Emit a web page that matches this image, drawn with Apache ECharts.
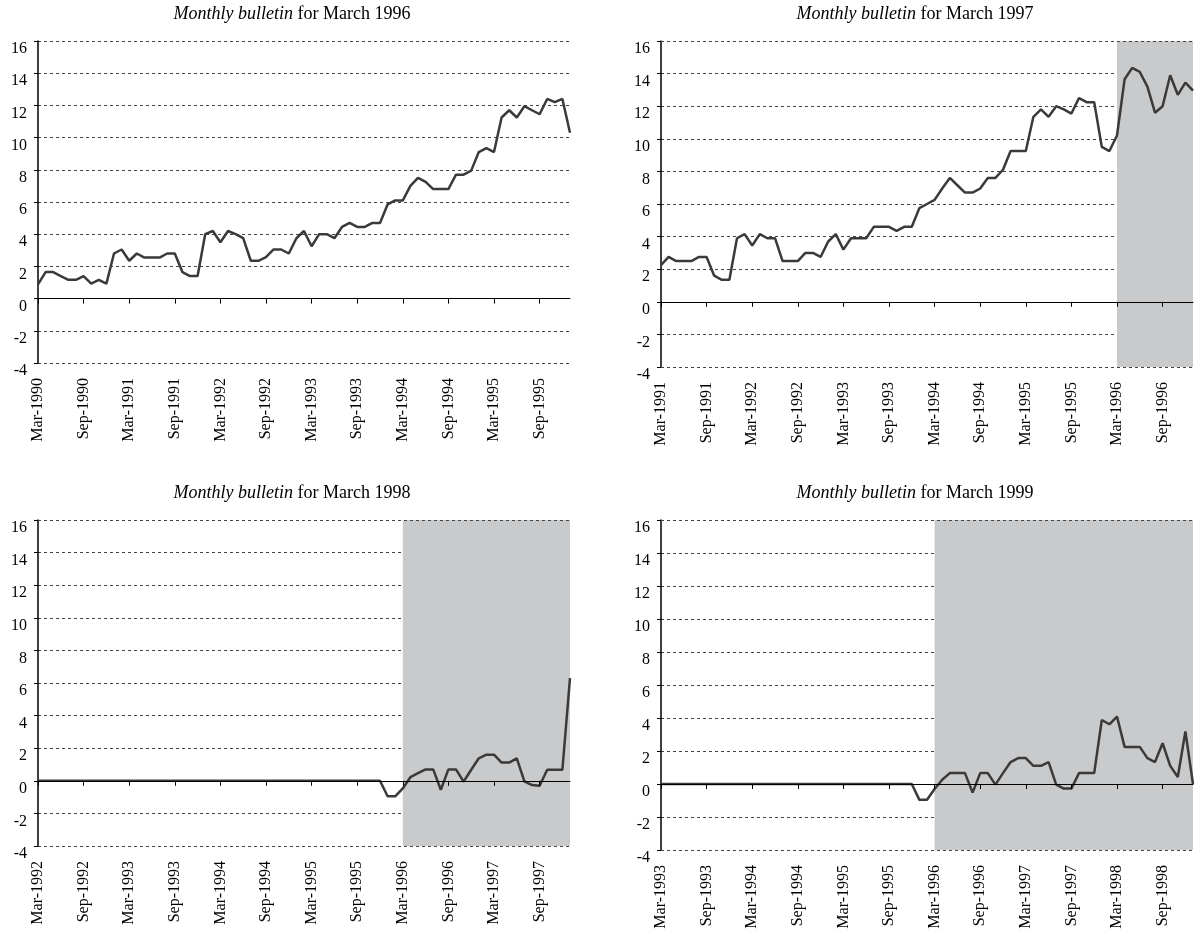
<!DOCTYPE html>
<html>
<head>
<meta charset="utf-8">
<script src="https://cdn.jsdelivr.net/npm/echarts@6/dist/echarts.min.js"></script>
<style>
  html, body { margin: 0; padding: 0; background: #fff; }
  #chart { width: 1195px; height: 932px; }
</style>
</head>
<body>
<div id="chart"></div>
<script>
  // bulletins: each shows 71 monthly points starting March of startYears[i]
  const bulletinTitles = ['March 1996', 'March 1997', 'March 1998', 'March 1999']
  const startYears = [1990, 1991, 1992, 1993]
  const shadeFrom = [null, 'Mar-1996', 'Mar-1996', 'Mar-1996']

  const values1996 = [0.88, 1.65, 1.65, 1.4, 1.17, 1.17, 1.4, 0.93, 1.17, 0.93,
    2.8, 3.05, 2.35, 2.8, 2.55, 2.55, 2.55, 2.8, 2.8, 1.65, 1.4, 1.4,
    4.0, 4.2, 3.5, 4.2, 4.0, 3.75, 2.35, 2.35, 2.57, 3.05, 3.05, 2.8,
    3.75, 4.2, 3.25, 4.0, 4.0, 3.75, 4.45, 4.7, 4.45, 4.45, 4.7, 4.7,
    5.85, 6.1, 6.1, 7.0, 7.5, 7.25, 6.8, 6.8, 6.8, 7.7, 7.7, 7.95,
    9.1, 9.35, 9.1, 11.25, 11.7, 11.25, 11.95, 11.7, 11.45, 12.4, 12.2, 12.4, 10.3]

  const values1997 = [2.25, 2.75, 2.5, 2.5, 2.5, 2.75, 2.75, 1.6, 1.35, 1.35,
    3.9, 4.15, 3.45, 4.15, 3.9, 3.9, 2.5, 2.5, 2.5, 3.0, 3.0, 2.75,
    3.7, 4.15, 3.2, 3.9, 3.9, 3.9, 4.6, 4.6, 4.6, 4.35, 4.6, 4.6,
    5.75, 6.0, 6.25, 6.95, 7.6, 7.15, 6.7, 6.7, 6.95, 7.6, 7.6, 8.1,
    9.25, 9.25, 9.25, 11.35, 11.8, 11.35, 12.0, 11.8, 11.55, 12.5, 12.25, 12.25,
    9.5, 9.25, 10.2, 13.65, 14.35, 14.1, 13.2, 11.6, 12.0, 13.9, 12.7, 13.45, 12.95]

  const values1998 = [0, 0, 0, 0, 0, 0, 0, 0, 0, 0, 0, 0, 0, 0, 0, 0, 0, 0, 0, 0,
    0, 0, 0, 0, 0, 0, 0, 0, 0, 0, 0, 0, 0, 0, 0, 0, 0, 0, 0, 0, 0, 0, 0, 0, 0, 0,
    -0.95, -0.95, -0.47, 0.22, 0.47, 0.7, 0.7, -0.55, 0.7, 0.7, -0.05, 0.68,
    1.38, 1.6, 1.6, 1.12, 1.12, 1.38, -0.04, -0.26, -0.3, 0.68, 0.68, 0.68, 6.3]

  const values1999 = [0, 0, 0, 0, 0, 0, 0, 0, 0, 0, 0, 0, 0, 0, 0, 0, 0, 0, 0, 0,
    0, 0, 0, 0, 0, 0, 0, 0, 0, 0, 0, 0, 0, 0,
    -0.96, -0.96, -0.3, 0.26, 0.66, 0.66, 0.66, -0.52, 0.66, 0.66, -0.04, 0.66,
    1.33, 1.57, 1.57, 1.1, 1.1, 1.33, -0.04, -0.28, -0.28, 0.66, 0.66, 0.66,
    3.88, 3.62, 4.08, 2.25, 2.25, 2.25, 1.57, 1.33, 2.47, 1.1, 0.42, 3.18, 0.0]

  const seriesValues = [values1996, values1997, values1998, values1999]
  const yMin = -4
  const yMax = 16
  const yStep = 2

  const monthNames = ['Jan', 'Feb', 'Mar', 'Apr', 'May', 'Jun', 'Jul', 'Aug', 'Sep', 'Oct', 'Nov', 'Dec']
  function monthLabels (year, n) {
    let out = []
    for (let i = 0; i < n; i++) {
      let m = 2 + i
      out.push(monthNames[m % 12] + '-' + (year + Math.floor(m / 12)))
    }
    return out
  }

  const serif = 'Liberation Serif, Times New Roman, serif'
  // grid boxes [left, top, width, height] in px
  const boxes = [
    [38, 41, 532, 322],
    [661, 41, 532, 326],
    [38, 520, 532, 326],
    [661, 520, 532, 330]
  ]

  let grids = []
  let xAxes = []
  let yAxes = []
  let series = []
  let titles = []

  boxes.forEach((b, i) => {
    let cats = monthLabels(startYears[i], seriesValues[i].length)
    grids.push({ left: b[0], top: b[1], width: b[2], height: b[3], containLabel: false })
    titles.push({
      text: '{i|Monthly bulletin}{n| for ' + bulletinTitles[i] + '}',
      left: b[0] + b[2] / 2 - 17,
      top: b[1] - 41,
      textAlign: 'center',
      textStyle: {
        fontWeight: 'normal',
        rich: {
          i: { fontFamily: serif, fontStyle: 'italic', fontWeight: 'normal', fontSize: 18, color: '#000' },
          n: { fontFamily: serif, fontWeight: 'normal', fontSize: 18, color: '#000' }
        }
      }
    })
    // bottom axis: labels only
    xAxes.push({
      type: 'category',
      gridIndex: i,
      data: cats,
      boundaryGap: false,
      position: 'bottom',
      axisLine: { show: false, onZero: false },
      axisTick: { show: false },
      splitLine: { show: false },
      axisLabel: {
        interval: 5,
        rotate: 90,
        margin: 15,
        fontFamily: serif,
        fontSize: 16,
        color: '#000'
      }
    })
    // zero axis: line and ticks only
    xAxes.push({
      type: 'category',
      gridIndex: i,
      data: cats,
      boundaryGap: false,
      position: 'bottom',
      z: 5,
      axisLine: { show: true, onZero: true, lineStyle: { color: '#000', width: 1 } },
      axisTick: { show: true, interval: 5, length: 5, lineStyle: { color: '#000' } },
      axisLabel: { show: false },
      splitLine: { show: false }
    })
    yAxes.push({
      type: 'value',
      gridIndex: i,
      min: yMin,
      max: yMax,
      interval: yStep,
      axisLine: { show: true, lineStyle: { color: '#000', width: 1.5 } },
      axisTick: { show: true, length: 4, lineStyle: { color: '#000' } },
      axisLabel: { fontFamily: serif, fontSize: 16, color: '#000', margin: 11, verticalAlign: 'top' },
      splitLine: { show: true, lineStyle: { color: '#444', width: 1, type: [3, 3] } }
    })
    let s = {
      type: 'line',
      xAxisIndex: i * 2,
      yAxisIndex: i,
      data: seriesValues[i],
      symbol: 'none',
      lineStyle: { color: '#3a3a3a', width: 2.5 },
      z: 3,
      silent: true
    }
    if (shadeFrom[i]) {
      s.markArea = {
        silent: true,
        itemStyle: { color: '#c9cacc' },
        data: [[{ xAxis: shadeFrom[i], yAxis: yMax }, { xAxis: cats[cats.length - 1], yAxis: yMin }]]
      }
      s.markLine = {
        silent: true,
        symbol: 'none',
        label: { show: false },
        lineStyle: { color: '#444', width: 1, type: [3, 3] },
        data: [{ yAxis: yMax }, { yAxis: yMin }]
      }
    }
    series.push(s)
  })

  let myChart = echarts.init(document.getElementById('chart'))
  myChart.setOption({
    animation: false,
    backgroundColor: '#fff',
    title: titles,
    grid: grids,
    xAxis: xAxes,
    yAxis: yAxes,
    series: series
  })
</script>
</body>
</html>
